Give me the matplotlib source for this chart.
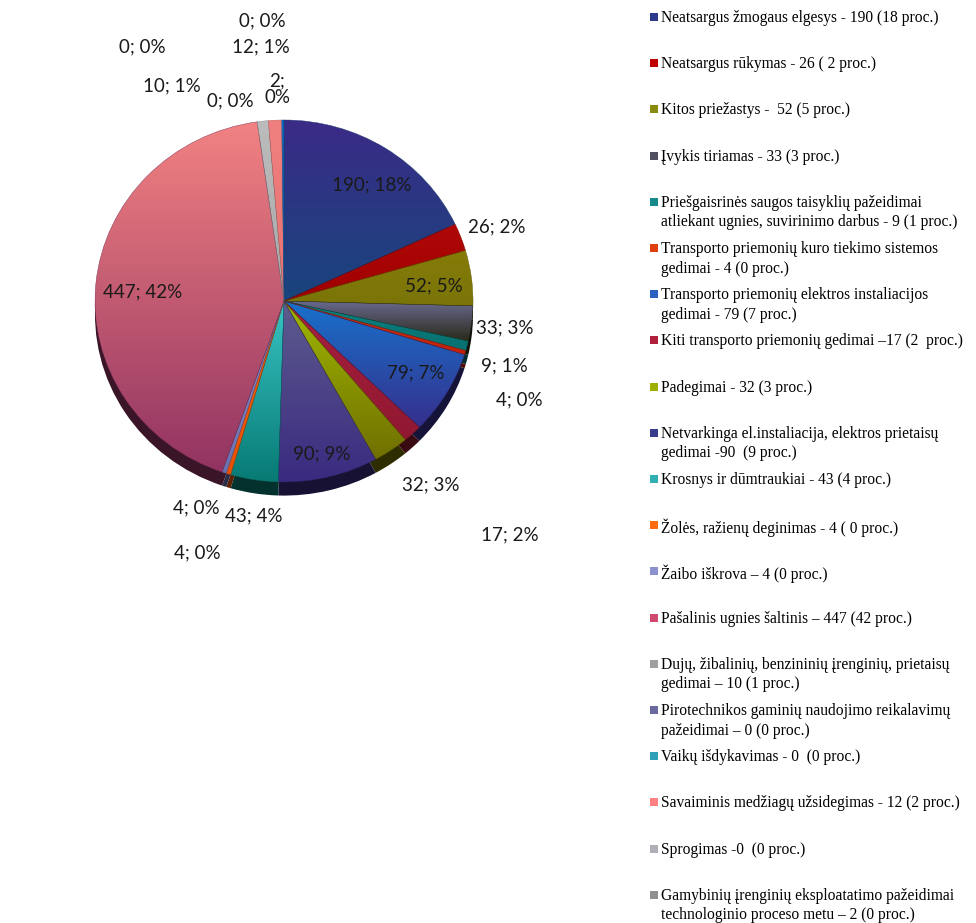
import numpy as np
import matplotlib
matplotlib.use('Agg')
import matplotlib.pyplot as plt
import matplotlib.colors as mcolors
from matplotlib.patches import Rectangle

causes = [
    'Neatsargus žmogaus elgesys - 190 (18 proc.)',
    'Neatsargus rūkymas - 26 ( 2 proc.)',
    'Kitos priežastys -  52 (5 proc.)',
    'Įvykis tiriamas - 33 (3 proc.)',
    'Priešgaisrinės saugos taisyklių pažeidimai\natliekant ugnies, suvirinimo darbus - 9 (1 proc.)',
    'Transporto priemonių kuro tiekimo sistemos\ngedimai - 4 (0 proc.)',
    'Transporto priemonių elektros instaliacijos\ngedimai - 79 (7 proc.)',
    'Kiti transporto priemonių gedimai –17 (2  proc.)',
    'Padegimai - 32 (3 proc.)',
    'Netvarkinga el.instaliacija, elektros prietaisų\ngedimai -90  (9 proc.)',
    'Krosnys ir dūmtraukiai - 43 (4 proc.)',
    'Žolės, ražienų deginimas - 4 ( 0 proc.)',
    'Žaibo iškrova – 4 (0 proc.)',
    'Pašalinis ugnies šaltinis – 447 (42 proc.)',
    'Dujų, žibalinių, benzininių įrenginių, prietaisų\ngedimai – 10 (1 proc.)',
    'Pirotechnikos gaminių naudojimo reikalavimų\npažeidimai – 0 (0 proc.)',
    'Vaikų išdykavimas - 0  (0 proc.)',
    'Savaiminis medžiagų užsidegimas - 12 (2 proc.)',
    'Sprogimas -0  (0 proc.)',
    'Gamybinių įrenginių eksploatatimo pažeidimai\ntechnologinio proceso metu – 2 (0 proc.)',
]
counts = [190, 26, 52, 33, 9, 4, 79, 17, 32, 90, 43, 4, 4, 447, 10, 0, 0, 12, 0, 2]

# slice gradient (top, bottom) and legend swatch colours
top_cols = ['#3b2b87', '#b00808', '#857c08', '#6a6a90', '#0a8080', '#d03010', '#1872cc',
            '#a82040', '#a0b800', '#5e5c8e', '#38c4c4', '#ff6000', '#8a90d0', '#f28282',
            '#bcbcbc', '#6a6aa0', '#30b0c0', '#f08080', '#b0b0b8', '#0a70c8']
bot_cols = ['#18457d', '#a00000', '#7a7408', '#2a2a1a', '#087070', '#c02008', '#352f8c',
            '#901830', '#707000', '#3a2a80', '#087a74', '#e85000', '#6a70b0', '#923462',
            '#a8a8a8', '#6a6aa0', '#30b0c0', '#e87070', '#b0b0b8', '#0a60b0']
legend_cols = ['#2b3a8a', '#c00000', '#8a8a10', '#505060', '#158a8a', '#e04010', '#2a60c0',
               '#b0203c', '#a0b000', '#3c3c8c', '#30b0b0', '#ff6a10', '#8a90d0', '#d04a70',
               '#a0a0a0', '#6a6aa0', '#30a0b8', '#ff8080', '#b0b0b8', '#909090']

# label placement (radius, angle clockwise from 12 o'clock)
label_r = [0.79, 1.20, 0.80, 1.18, 1.22, 1.36, 0.80, 1.76, 1.28, 0.87,
           1.20, 1.235, 1.465, 0.75, 1.33, 1.59, 1.14, 1.41, 1.55, 1.17]
label_ang = [36, 70, 84, 97.3, 107, 113.6, 119.7, 137.2, 142.6, 166.7,
             187.6, 202, 198.3, 273.8, 333.6, 331.8, 345.5, 355, 355.7, 358.2]

W, H = 976, 923
cx, cy, rx, ry = 284, 301, 189, 181

fig = plt.figure(figsize=(W / 100, H / 100), dpi=100)
ax = fig.add_axes([0, 0, 1, 1])

def darker(c, f):
    return tuple(np.array(mcolors.to_rgb(c)) * f)

# side rim of the "3D" pie
ax.pie(counts, colors=[darker(c, 0.4) for c in bot_cols], startangle=90, counterclock=False,
       center=(0, -0.075), wedgeprops=dict(linewidth=0, zorder=1))
wedges, _ = ax.pie(counts, colors=top_cols, startangle=90, counterclock=False,
                   wedgeprops=dict(linewidth=0, zorder=2))

for w, v, c1, c2 in zip(wedges, counts, top_cols, bot_cols):
    if v == 0:
        continue
    bb = w.get_path().get_extents()
    a = np.linspace(0, 1, 128)[:, None]
    img = (1 - a) * np.array(mcolors.to_rgb(c1)) + a * np.array(mcolors.to_rgb(c2))
    im = ax.imshow(img.reshape(128, 1, 3), extent=(bb.x0, bb.x1, bb.y0, bb.y1),
                   aspect='auto', origin='upper', zorder=3, interpolation='bilinear')
    im.set_clip_path(w)
    w.set_zorder(3.5)
    w.set_facecolor('none')
    w.set_edgecolor(darker(c2, 0.8))
    w.set_linewidth(0.3)

total = sum(counts)
for i, v in enumerate(counts):
    sep = ';\n' if i == len(counts) - 1 else '; '
    txt = f'{v}{sep}{round(v / total * 100)}%'
    t = np.deg2rad(label_ang[i])
    ax.text(label_r[i] * np.sin(t), label_r[i] * np.cos(t), txt, ha='center', va='center',
            fontsize=13.5, family='Lato', color='#1a1a1a', zorder=5, linespacing=1.0)

ax.set_aspect('auto')
ax.set_xlim(-cx / rx, (W - cx) / rx)
ax.set_ylim(-(H - cy) / ry, cy / ry)
ax.axis('off')

# legend column on the right
for i, (lab, col) in enumerate(zip(causes, legend_cols)):
    yc = 17 + i * 46.2
    fig.patches.append(Rectangle((650 / W, 1 - (yc + 4) / H), 8 / W, 8 / H,
                                 transform=fig.transFigure, facecolor=col,
                                 edgecolor='none'))
    fig.text(661 / W, 1 - (yc - 7) / H, lab, ha='left', va='top', fontsize=11.2,
             family='Liberation Serif', linespacing=1.3)

fig.savefig('out.png', dpi=100)
